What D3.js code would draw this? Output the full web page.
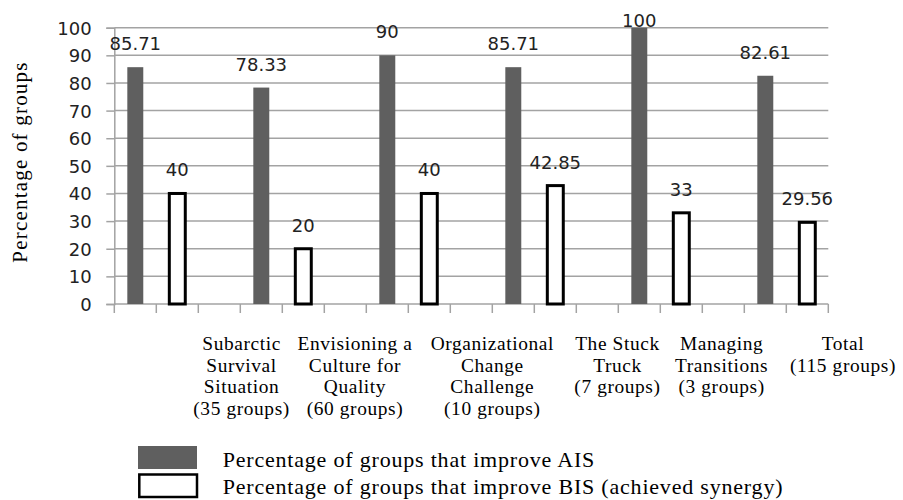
<!DOCTYPE html>
<html>
<head>
<meta charset="utf-8">
<script src="https://cdn.jsdelivr.net/npm/d3@7"></script>
<style>
  html, body { margin: 0; padding: 0; background: #fff; }
  svg { display: block; }
</style>
</head>
<body>
<svg id="chart" width="903" height="500"></svg>
<script>
// ---- data ----
const categoryLines = [
  ["Subarctic", "Survival", "Situation", "(35 groups)"],
  ["Envisioning a", "Culture for", "Quality", "(60 groups)"],
  ["Organizational", "Change", "Challenge", "(10 groups)"],
  ["The Stuck", "Truck", "(7 groups)"],
  ["Managing", "Transitions", "(3 groups)"],
  ["Total", "(115 groups)"]
];
const aisValues = [85.71, 78.33, 90, 85.71, 100, 82.61];
const bisValues = [40, 20, 40, 42.85, 33, 29.56];
const yTicks = [0, 10, 20, 30, 40, 50, 60, 70, 80, 90, 100];
const yTitle = "Percentage of groups";
const legendLabels = [
  "Percentage of groups that improve AIS",
  "Percentage of groups that improve BIS (achieved synergy)"
];

// ---- layout ----
// where each category caption sits along the slot axis (in slot units)
const labelSlots = [3.03, 5.73, 9.0, 11.98, 14.46, 17.35];
const plot = { left: 114.3, right: 828.3, top: 27.7, bottom: 304 };
const colAIS = "#5f5f5f";
const gridColor = "#a3a3a3";
const sans = "'DejaVu Sans', sans-serif";
const serif = "'Liberation Serif', 'Times New Roman', serif";

const svg = d3.select("#chart");

// each category gets an AIS slot, a BIS slot and a spacer slot (none after the last)
const slotKeys = [];
categoryLines.forEach((_, i) => {
  slotKeys.push(i + "|AIS", i + "|BIS");
  if (i < categoryLines.length - 1) slotKeys.push(i + "|gap");
});

const x = d3.scaleBand().domain(slotKeys).range([plot.left, plot.right]).padding(0);
const y = d3.scaleLinear().domain([0, 100]).range([plot.bottom, plot.top]);
const barW = x.bandwidth() * 0.38;

// gridlines + left tick stubs
const yAxis = d3.axisLeft(y).tickValues(yTicks).tickSize(8).tickFormat(d3.format("d"));
const gy = svg.append("g").attr("transform", `translate(${plot.left},0)`).call(yAxis);
gy.select(".domain").attr("stroke", gridColor).attr("stroke-width", 1.5);
gy.selectAll(".tick line").attr("stroke", gridColor).attr("stroke-width", 1.5);
gy.selectAll(".tick text")
  .attr("x", -22.6).attr("dy", "0.36em")
  .attr("font-family", sans).attr("font-size", 18).attr("fill", "#222");

svg.append("g").selectAll("line").data(yTicks).join("line")
  .attr("x1", plot.left).attr("x2", plot.right)
  .attr("y1", d => y(d)).attr("y2", d => y(d))
  .attr("stroke", gridColor).attr("stroke-width", 1.5);

// category axis: tick marks on every slot boundary
const boundaries = d3.range(slotKeys.length + 1).map(i => plot.left + i * x.step());
svg.append("g").selectAll("line").data(boundaries).join("line")
  .attr("x1", d => d).attr("x2", d => d)
  .attr("y1", plot.bottom).attr("y2", plot.bottom + 9)
  .attr("stroke", gridColor).attr("stroke-width", 1.5);

// bars
const aisData = aisValues.map((v, i) => ({ key: i + "|AIS", v }));
const bisData = bisValues.map((v, i) => ({ key: i + "|BIS", v }));

svg.append("g").selectAll("rect").data(aisData).join("rect")
  .attr("x", d => x(d.key) + (x.bandwidth() - barW) / 2)
  .attr("width", barW)
  .attr("y", d => y(d.v))
  .attr("height", d => y(0) - y(d.v))
  .attr("fill", colAIS);

svg.append("g").selectAll("rect").data(bisData).join("rect")
  .attr("x", d => x(d.key) + (x.bandwidth() - barW) / 2)
  .attr("width", barW)
  .attr("y", d => y(d.v))
  .attr("height", d => y(0) - y(d.v))
  .attr("fill", "#fff").attr("stroke", "#000").attr("stroke-width", 3);

// value labels
svg.append("g").selectAll("text").data(aisData.concat(bisData)).join("text")
  .attr("x", d => x(d.key) + x.bandwidth() / 2)
  .attr("y", d => Math.max(y(d.v) - 17, plot.top - 1))
  .attr("text-anchor", "middle")
  .attr("font-family", sans).attr("font-size", 18).attr("fill", "#222")
  .text(d => String(d.v));

// category captions, one text element per line
const capLineH = 21.5;
const capGroups = svg.append("g").selectAll("g").data(categoryLines).join("g")
  .attr("transform", (d, i) => `translate(${plot.left + labelSlots[i] * x.step()},350)`);
capGroups.selectAll("text").data(d => d).join("text")
  .attr("y", (d, j) => j * capLineH)
  .attr("text-anchor", "middle")
  .attr("font-family", serif).attr("font-size", 19.4).attr("letter-spacing", 0.6)
  .attr("fill", "#000")
  .text(d => d);

// y axis title
svg.append("text")
  .attr("transform", "translate(27,162) rotate(-90)")
  .attr("text-anchor", "middle")
  .attr("font-family", serif).attr("font-size", 21).attr("letter-spacing", 1.2)
  .attr("fill", "#000")
  .text(yTitle);

// legend
const lg = svg.append("g");
lg.append("rect").attr("x", 138).attr("y", 446).attr("width", 59).attr("height", 23).attr("fill", colAIS);
lg.append("rect").attr("x", 139.3).attr("y", 474.5).attr("width", 57.7).attr("height", 22.5)
  .attr("fill", "#fff").attr("stroke", "#000").attr("stroke-width", 2.5);
lg.selectAll("text").data(legendLabels).join("text")
  .attr("x", 222.7).attr("y", (d, i) => 467 + i * 26.5)
  .attr("font-family", serif).attr("font-size", 22).attr("letter-spacing", 0.8)
  .attr("fill", "#000")
  .text(d => d);
</script>
</body>
</html>
